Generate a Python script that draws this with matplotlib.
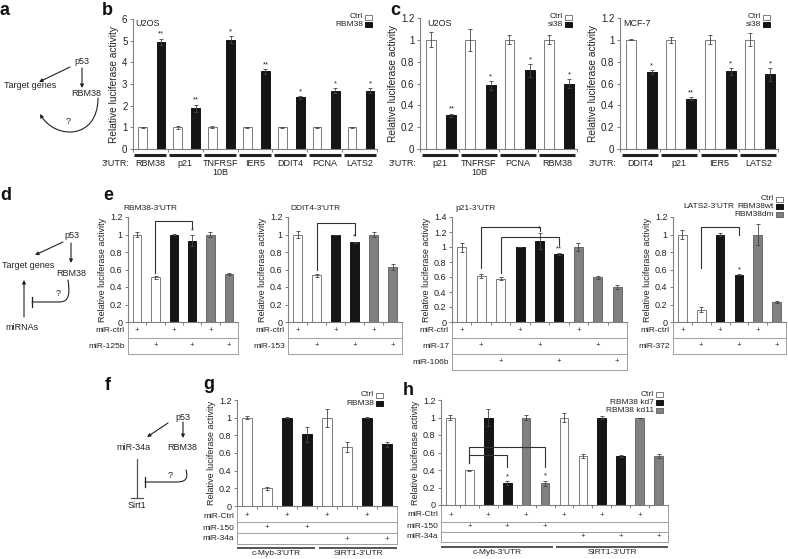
import numpy as np
import matplotlib
matplotlib.use('Agg')
import matplotlib.pyplot as plt
from matplotlib.patches import Rectangle, FancyArrowPatch
from matplotlib.path import Path

plt.rcParams['font.family'] = ['Liberation Sans', 'DejaVu Sans']

# ---------------- data ----------------
b_cats = ['RBM38', 'p21', 'TNFRSF\n10B', 'IER5', 'DDIT4', 'PCNA', 'LATS2']
b_ctrl = [1, 1, 1, 1, 1, 1, 1]
b_ctrl_err = [0.03, 0.08, 0.04, 0.03, 0.03, 0.03, 0.03]
b_rbm38 = [4.95, 1.88, 5.05, 3.58, 2.38, 2.70, 2.70]
b_rbm38_err = [0.15, 0.17, 0.18, 0.10, 0.08, 0.10, 0.10]
b_stars = ['**', '**', '*', '**', '*', '*', '*']
b_yticks = [0, 1, 2, 3, 4, 5, 6]
b_yticklabels = ['0', '1', '2', '3', '4', '5', '6']

c1_cats = ['p21', 'TNFRSF\n10B', 'PCNA', 'RBM38']
c1_ctrl = [1, 1, 1, 1]
c1_ctrl_err = [0.07, 0.10, 0.04, 0.04]
c1_si38 = [0.31, 0.585, 0.72, 0.60]
c1_si38_err = [0.015, 0.04, 0.06, 0.04]
c1_stars = ['**', '*', '*', '*']

c2_cats = ['DDIT4', 'p21', 'IER5', 'LATS2']
c2_ctrl = [1, 1, 1, 1]
c2_ctrl_err = [0.005, 0.025, 0.04, 0.06]
c2_si38 = [0.705, 0.46, 0.71, 0.685]
c2_si38_err = [0.015, 0.015, 0.03, 0.06]
c2_stars = ['*', '**', '*', '*']

yticks_12 = [0, 0.2, 0.4, 0.6, 0.8, 1.0, 1.2]
yticklabels_12 = ['0', '0.2', '0.4', '0.6', '0.8', '1', '1.2']
yticks_14 = [0, 0.2, 0.4, 0.6, 0.8, 1.0, 1.2, 1.4]
yticklabels_14 = ['0', '0.2', '0.4', '0.6', '0.8', '1', '1.2', '1.4']

e1_vals = [1.0, 0.51, 1.0, 0.93, 1.0, 0.545]
e1_errs = [0.03, 0.02, 0.005, 0.06, 0.03, 0.01]
e1_groups = ['w', 'w', 'k', 'k', 'g', 'g']
e1_ctrl_row = [1, 0, 1, 0, 1, 0]
e1_mir_row = [0, 1, 0, 1, 0, 1]
e1_stars = ['', '', '', '*', '', '']

e2_vals = [1.0, 0.535, 1.0, 0.91, 1.0, 0.625]
e2_errs = [0.04, 0.015, 0.0, 0.01, 0.03, 0.035]
e2_groups = ['w', 'w', 'k', 'k', 'g', 'g']
e2_ctrl_row = [1, 0, 1, 0, 1, 0]
e2_mir_row = [0, 1, 0, 1, 0, 1]
e2_stars = ['', '', '', '*', '', '']

e3_vals = [1.0, 0.61, 0.58, 1.0, 1.08, 0.91, 1.0, 0.60, 0.47]
e3_errs = [0.06, 0.025, 0.02, 0.0, 0.11, 0.01, 0.05, 0.02, 0.03]
e3_groups = ['w', 'w', 'w', 'k', 'k', 'k', 'g', 'g', 'g']
e3_ctrl_row = [1, 0, 0, 1, 0, 0, 1, 0, 0]
e3_mir17_row = [0, 1, 0, 0, 1, 0, 0, 1, 0]
e3_mir106b_row = [0, 0, 1, 0, 0, 1, 0, 0, 1]
e3_stars = ['', '', '', '', '*', '**', '', '', '']

e4_vals = [1.0, 0.14, 1.0, 0.54, 1.0, 0.23]
e4_errs = [0.05, 0.03, 0.02, 0.005, 0.12, 0.01]
e4_groups = ['w', 'w', 'k', 'k', 'g', 'g']
e4_ctrl_row = [1, 0, 1, 0, 1, 0]
e4_mir_row = [0, 1, 0, 1, 0, 1]
e4_stars = ['', '', '', '*', '', '']

g_vals = [1.0, 0.20, 1.0, 0.81, 1.0, 0.67, 1.0, 0.70]
g_errs = [0.02, 0.02, 0.005, 0.08, 0.10, 0.06, 0.005, 0.03]
g_groups = ['w', 'w', 'k', 'k', 'w', 'w', 'k', 'k']
g_ctrl_row = [1, 0, 1, 0, 1, 0, 1, 0]
g_mir150_row = [0, 1, 0, 1, 0, 0, 0, 0]
g_mir34a_row = [0, 0, 0, 0, 0, 1, 0, 1]
g_utr = ['c-Myb-3\'UTR', 'SIRT1-3\'UTR']

h_vals = [1.0, 0.395, 1.0, 0.25, 1.0, 0.25, 1.0, 0.56, 1.0, 0.56, 1.0, 0.56]
h_errs = [0.03, 0.005, 0.10, 0.02, 0.03, 0.03, 0.05, 0.025, 0.02, 0.015, 0.0, 0.02]
h_groups = ['w', 'w', 'k', 'k', 'g', 'g', 'w', 'w', 'k', 'k', 'g', 'g']
h_ctrl_row = [1, 0, 1, 0, 1, 0, 1, 0, 1, 0, 1, 0]
h_mir150_row = [0, 1, 0, 1, 0, 1, 0, 0, 0, 0, 0, 0]
h_mir34a_row = [0, 0, 0, 0, 0, 0, 0, 1, 0, 1, 0, 1]
h_stars = ['', '', '', '*', '', '*', '', '', '', '', '', '']
h_utr = ['c-Myb-3\'UTR', 'SIRT1-3\'UTR']

# ---------------- style ----------------
W, H = 788, 559
fig = plt.figure(figsize=(W / 100, H / 100), dpi=100)
TXT = '#222222'
AXC = '#808080'
FC = {'w': 'white', 'k': '#151515', 'g': '#808080'}
EC = {'w': '#7a7a7a', 'k': '#151515', 'g': '#6a6a6a'}
EK = dict(ecolor='#444444', elinewidth=0.6, capsize=1.3, capthick=0.6)
FS = 6


def px_axes(x0, y0, x1, y1):
    ax = fig.add_axes([x0 / W, 1 - y1 / H, (x1 - x0) / W, (y1 - y0) / H])
    ax.set_facecolor('none')
    return ax


def style_axes(ax, ymax, yticks, yticklabels, tfs, lfs):
    for s in ['top', 'right']:
        ax.spines[s].set_visible(False)
    for s in ['left', 'bottom']:
        ax.spines[s].set_color(AXC)
        ax.spines[s].set_linewidth(0.8)
    ax.set_ylim(0, ymax)
    ax.set_yticks(yticks)
    ax.set_yticklabels(yticklabels)
    ax.tick_params(axis='y', length=2.5, width=0.7, color=AXC, labelsize=tfs,
                   labelcolor=TXT, pad=1.5)
    ax.set_ylabel('Relative luciferase activity', fontsize=lfs, color=TXT, labelpad=2)


def add_stars(ax, xs, vals, errs, stars):
    for x, v, e, s in zip(xs, vals, errs, stars):
        if s:
            ax.annotate(s, (x, v + e), xytext=(0, 0.5), textcoords='offset points',
                        ha='center', va='bottom', fontsize=5.5, color=TXT)


def group_panel(box, cats, ctrl, ctrl_err, trt, trt_err, stars, ymax, yticks, ytl):
    ax = px_axes(*box)
    aw = box[2] - box[0]
    ah = box[3] - box[1]
    n = len(cats)
    idx = np.arange(n)
    ax.bar(idx + 0.28, ctrl, 0.25, yerr=ctrl_err, color=FC['w'], edgecolor=EC['w'],
           linewidth=0.7, error_kw=EK)
    ax.bar(idx + 0.80, trt, 0.25, yerr=trt_err, color=FC['k'], edgecolor=EC['k'],
           linewidth=0.7, error_kw=EK)
    add_stars(ax, idx + 0.80, trt, trt_err, stars)
    ax.set_xlim(0, n)
    ax.set_xticks(np.arange(n + 1))
    ax.set_xticklabels([])
    ax.tick_params(axis='x', length=2.5, width=0.7, color=AXC)
    style_axes(ax, ymax, yticks, ytl, 7, 7.3)
    tr = ax.get_xaxis_transform()
    yl = -5.5 / ah
    for i in range(n):
        ax.plot([i + 0.04, i + 0.96], [yl, yl], transform=tr, color='#222222', lw=2.2,
                solid_capstyle='butt', clip_on=False)
        ax.text(i + 0.5, -9.5 / ah, cats[i], transform=tr, ha='center', va='top',
                fontsize=6.5, color=TXT, linespacing=1.0)
    ax.text(-3 / aw, -9.5 / ah, "3'UTR:", transform=ax.transAxes, ha='right', va='top',
            fontsize=6.5, color=TXT)
    return ax


def slot_panel(box, vals, errs, groups, stars, ymax, yticks, ytl, rows, lines, centers):
    ax = px_axes(*box)
    aw = box[2] - box[0]
    ah = box[3] - box[1]
    n = len(vals)
    xs = np.arange(n) + 0.5
    ax.bar(xs, vals, 0.46, yerr=errs, color=[FC[g] for g in groups],
           edgecolor=[EC[g] for g in groups], linewidth=0.7, error_kw=EK)
    add_stars(ax, xs, vals, errs, stars)
    ax.set_xlim(0, n)
    ax.set_xticks(np.arange(n + 1))
    ax.set_xticklabels([])
    ax.tick_params(axis='x', length=2.5, width=0.7, color=AXC)
    style_axes(ax, ymax, yticks, ytl, 6.5, 6.5)
    tr = ax.get_xaxis_transform()
    lc = '#a0a0a0'
    for r, (lab, marks) in enumerate(rows):
        yc = -centers[r] / ah
        ax.text(-3 / aw, yc, lab, transform=ax.transAxes, ha='right', va='center',
                fontsize=FS, color=TXT)
        for i, m in enumerate(marks):
            if m:
                ax.text(i + 0.5, yc, '+', transform=tr, ha='center', va='center',
                        fontsize=5.5, color=TXT)
        yb = -lines[r] / ah
        ax.plot([0, n], [yb, yb], transform=tr, color=lc, lw=0.7, clip_on=False)
    ybot = -lines[len(rows) - 1] / ah
    ax.plot([0, 0], [0, ybot], transform=tr, color=lc, lw=0.7, clip_on=False)
    ax.plot([n, n], [0, ybot], transform=tr, color=lc, lw=0.7, clip_on=False)
    return ax


def bracket(ax, x1, x2, ytop, yb1, yb2):
    ax.plot([x1, x1, x2, x2], [yb1, ytop, ytop, yb2], color='#333333', lw=0.8,
            clip_on=False)


def utr_labels(ax, box, n, labels, y_off):
    ah = box[3] - box[1]
    tr = ax.get_xaxis_transform()
    half = n / 2
    segs = [(0, half - 0.1), (half + 0.1, n)]
    for (a, b), lab in zip(segs, labels):
        ax.plot([a, b], [-y_off / ah, -y_off / ah], transform=tr, color='#555555',
                lw=1.4, solid_capstyle='butt', clip_on=False)
        ax.text((a + b) / 2, -(y_off + 2.5) / ah, lab, transform=tr, ha='center',
                va='top', fontsize=FS, color=TXT)


# ---------------- panel b, c ----------------
group_panel((133, 19, 377, 149), b_cats, b_ctrl, b_ctrl_err, b_rbm38, b_rbm38_err,
            b_stars, 6, b_yticks, b_yticklabels)
group_panel((420, 18, 577, 149), c1_cats, c1_ctrl, c1_ctrl_err, c1_si38, c1_si38_err,
            c1_stars, 1.2, yticks_12, yticklabels_12)
group_panel((620, 18, 778, 149), c2_cats, c2_ctrl, c2_ctrl_err, c2_si38, c2_si38_err,
            c2_stars, 1.2, yticks_12, yticklabels_12)

# ---------------- panel e ----------------
E_LINES = [16, 32, 48]
E_CENT = [8.5, 24, 40]
b1 = (128, 217, 238, 322)
ax = slot_panel(b1, e1_vals, e1_errs, e1_groups, e1_stars, 1.2, yticks_12, yticklabels_12,
                [('miR-ctrl', e1_ctrl_row), ('miR-125b', e1_mir_row)], E_LINES, E_CENT)
bracket(ax, 1.5, 3.5, 1.16, 0.56, 1.07)
b2 = (288, 217, 402, 322)
ax = slot_panel(b2, e2_vals, e2_errs, e2_groups, e2_stars, 1.2, yticks_12, yticklabels_12,
                [('miR-ctrl', e2_ctrl_row), ('miR-153', e2_mir_row)], E_LINES, E_CENT)
bracket(ax, 1.5, 3.5, 1.13, 0.60, 1.00)
b3 = (452, 217, 627, 322)
ax = slot_panel(b3, e3_vals, e3_errs, e3_groups, e3_stars, 1.4, yticks_14, yticklabels_14,
                [('miR-ctrl', e3_ctrl_row), ('miR-17', e3_mir17_row),
                 ('miR-106b', e3_mir106b_row)], E_LINES, E_CENT)
bracket(ax, 1.5, 4.5, 1.27, 0.72, 1.21)
bracket(ax, 2.5, 5.5, 1.14, 0.66, 1.03)
b4 = (673, 217, 786, 322)
ax = slot_panel(b4, e4_vals, e4_errs, e4_groups, e4_stars, 1.2, yticks_12, yticklabels_12,
                [('miR-ctrl', e4_ctrl_row), ('miR-372', e4_mir_row)], E_LINES, E_CENT)
bracket(ax, 1.5, 3.5, 1.09, 0.62, 0.99)

# ---------------- panel g, h ----------------
bg_box = (237, 400, 397, 506)
ax = slot_panel(bg_box, g_vals, g_errs, g_groups, ['' for _ in g_vals], 1.2, yticks_12,
                yticklabels_12,
                [('miR-Ctrl', g_ctrl_row), ('miR-150', g_mir150_row),
                 ('miR-34a', g_mir34a_row)], [15.7, 27, 38], [10, 22, 33])
utr_labels(ax, bg_box, len(g_vals), g_utr, 41.7)

bh_box = (441, 400, 668, 505)
ax = slot_panel(bh_box, h_vals, h_errs, h_groups, h_stars, 1.2, yticks_12, yticklabels_12,
                [('miR-Ctrl', h_ctrl_row), ('miR-150', h_mir150_row),
                 ('miR-34a', h_mir34a_row)], [16.7, 26.7, 37], [10, 21.7, 31.7])
bracket(ax, 1.5, 5.5, 0.666, 0.48, 0.43)
bracket(ax, 1.5, 3.5, 0.57, 0.48, 0.43)
utr_labels(ax, bh_box, len(h_vals), h_utr, 41.7)

# ---------------- overlay: letters, legends, diagrams ----------------
bg = fig.add_axes([0, 0, 1, 1], facecolor='none')
bg.set_xlim(0, W)
bg.set_ylim(H, 0)
bg.axis('off')

for lab, x, y in [('a', 0, 15), ('b', 102, 15), ('c', 390, 15), ('d', 0, 200),
                  ('e', 103, 200), ('f', 105, 390), ('g', 203, 389), ('h', 403, 395)]:
    bg.text(x, y, lab, fontsize=13, fontweight='bold', ha='left', va='baseline',
            color='#111111')


def legend(x_right, y_top, dy, items):
    for k, (lab, key) in enumerate(items):
        y = y_top + k * dy
        bg.add_patch(Rectangle((x_right - 7, y - 2.5), 7, 5, facecolor=FC[key],
                               edgecolor=EC[key], lw=0.7))
        bg.text(x_right - 9, y, lab, ha='right', va='center', fontsize=FS, color=TXT)


legend(372, 17, 7.5, [('Ctrl', 'w'), ('RBM38', 'k')])
legend(572, 17, 7.5, [('Ctrl', 'w'), ('si38', 'k')])
legend(770, 17, 7.5, [('Ctrl', 'w'), ('si38', 'k')])
legend(783, 199, 7.6, [('Ctrl', 'w'), ('RBM38wt', 'k'), ('RBM38dm', 'g')])
legend(383, 395, 8.5, [('Ctrl', 'w'), ('RBM38', 'k')])
legend(663, 394, 8.3, [('Ctrl', 'w'), ('RBM38 kd7', 'k'), ('RBM38 kd11', 'g')])

for txt, x, y in [('U2OS', 135, 23), ('U2OS', 427, 23), ('MCF-7', 623, 23)]:
    bg.text(x, y, txt, ha='left', va='center', fontsize=6.5, color=TXT)
for txt, x, y in [("RBM38-3'UTR", 123, 208), ("DDIT4-3'UTR", 290, 208),
                  ("p21-3'UTR", 455, 208), ("LATS2-3'UTR", 683, 207)]:
    bg.text(x, y, txt, ha='left', va='center', fontsize=FS, color=TXT)

DC = '#222222'


def arrow(p0, p1):
    bg.annotate('', xy=p1, xytext=p0,
                arrowprops=dict(arrowstyle='-|>', color=DC, lw=0.8, mutation_scale=5,
                                shrinkA=0, shrinkB=0))


def dtext(s, x, y):
    bg.text(x, y, s, ha='center', va='center', fontsize=6.5, color=TXT)


# panel a
dtext('p53', 82, 62)
dtext('Target genes', 30, 85)
dtext('RBM38', 86, 93)
arrow((70, 67), (39, 82))
arrow((82, 68), (82, 88))
pth = Path([(98, 98), (98, 140), (55, 140), (40, 114)],
           [Path.MOVETO, Path.CURVE4, Path.CURVE4, Path.CURVE4])
bg.add_patch(FancyArrowPatch(path=pth, arrowstyle='-|>', mutation_scale=5, lw=0.8,
                             color=DC))
dtext('?', 68, 122)

# panel d
dtext('p53', 72, 235)
dtext('Target genes', 28, 265)
dtext('RBM38', 71, 273)
dtext('miRNAs', 22, 327)
arrow((63, 242), (35, 255))
arrow((71, 243), (71, 263))
arrow((24, 317), (24, 280))
pth = Path([(68, 280), (71, 300), (66, 302), (58, 302), (32, 302)],
           [Path.MOVETO, Path.CURVE4, Path.CURVE4, Path.CURVE4, Path.LINETO])
bg.add_patch(FancyArrowPatch(path=pth, arrowstyle='-', lw=0.8, color=DC))
bg.plot([32, 32], [297, 307], color=DC, lw=0.9)
dtext('?', 58, 294)

# panel f
dtext('p53', 183, 417)
dtext('miR-34a', 133, 447)
dtext('RBM38', 182, 447)
dtext('Sirt1', 137, 505)
arrow((168, 423), (147, 437))
arrow((183, 422), (183, 438))
bg.plot([137, 137], [459, 498], color='#555555', lw=0.9)
bg.plot([131, 143], [498, 498], color='#555555', lw=0.9)
pth = Path([(186, 470), (189, 480), (184, 482), (176, 482), (145, 482)],
           [Path.MOVETO, Path.CURVE4, Path.CURVE4, Path.CURVE4, Path.LINETO])
bg.add_patch(FancyArrowPatch(path=pth, arrowstyle='-', lw=0.8, color=DC))
bg.plot([145, 145], [477, 487], color=DC, lw=0.9)
dtext('?', 170, 475)

fig.savefig('out.png', dpi=100)
